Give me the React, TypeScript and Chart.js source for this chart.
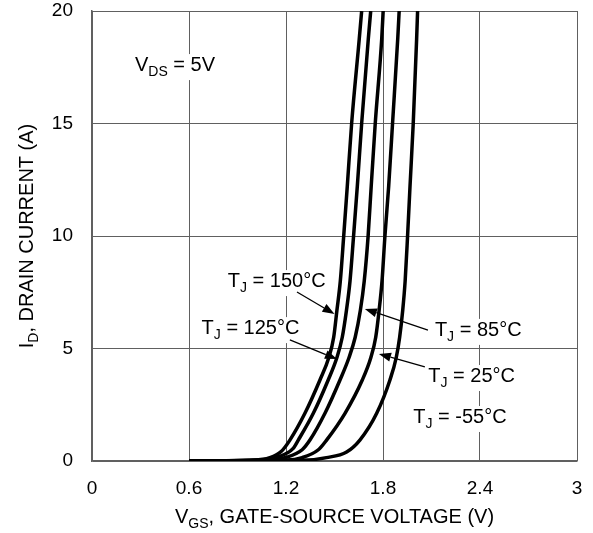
import { useEffect, useRef } from "react";
import { Chart, registerables } from "chart.js";

Chart.register(...registerables);

const FONT = '"Liberation Sans", Arial, sans-serif';

const xTicks = [0, 0.6, 1.2, 1.8, 2.4, 3];
const xTickLabels = ["0", "0.6", "1.2", "1.8", "2.4", "3"];
const yTicks = [0, 5, 10, 15, 20];
const yTickLabels = ["0", "5", "10", "15", "20"];

// T_J = 150 C
const vgs150 = [0.6, 1.0, 1.1, 1.17, 1.224, 1.317, 1.41, 1.465, 1.495, 1.515, 1.536, 1.557, 1.579, 1.606, 1.653, 1.668];
const id150 = [0, 0.04, 0.15, 0.42, 0.93, 2.12, 3.6, 4.6, 5.5, 6.7, 8.0, 10, 12.2, 15, 18.75, 20];
// T_J = 125 C
const vgs125 = [0.6, 1.05, 1.15, 1.243, 1.276, 1.369, 1.461, 1.515, 1.548, 1.574, 1.596, 1.618, 1.641, 1.668, 1.709, 1.724];
const id125 = [0, 0.04, 0.18, 0.55, 0.93, 2.12, 3.6, 4.6, 5.5, 6.7, 8.0, 10, 12.2, 15, 18.75, 20];
// T_J = 85 C
const vgs85 = [0.6, 1.1, 1.2, 1.3, 1.348, 1.441, 1.534, 1.59, 1.628, 1.66, 1.684, 1.708, 1.727, 1.752, 1.792, 1.801];
const id85 = [0, 0.04, 0.16, 0.5, 0.93, 2.12, 3.6, 4.6, 5.5, 6.7, 8, 10, 12.2, 15, 18.75, 20];
// T_J = 25 C
const vgs25 = [0.6, 1.2, 1.3, 1.4, 1.451, 1.565, 1.672, 1.725, 1.755, 1.776, 1.794, 1.812, 1.835, 1.859, 1.891, 1.9];
const id25 = [0, 0.04, 0.15, 0.5, 0.93, 2.12, 3.6, 4.6, 5.5, 6.7, 8, 10, 12.2, 15, 18.75, 20];
// T_J = -55 C
const vgsM55 = [0.6, 1.3, 1.45, 1.575, 1.657, 1.761, 1.843, 1.882, 1.903, 1.922, 1.937, 1.952, 1.967, 1.987, 2.008, 2.014];
const idM55 = [0, 0.03, 0.15, 0.4, 0.93, 2.12, 3.6, 4.6, 5.5, 6.7, 8, 10, 12.2, 15, 18.75, 20];

const seriesX = [vgs150, vgs125, vgs85, vgs25, vgsM55];
const seriesY = [id150, id125, id85, id25, idM55];
const seriesNames = ["TJ = 150°C", "TJ = 125°C", "TJ = 85°C", "TJ = 25°C", "TJ = -55°C"];

// Annotation labels (data coordinates: left edge, baseline)
const noteMain = ["V", "T", "T", "T", "T", "T"];
const noteSub = ["DS", "J", "J", "J", "J", "J"];
const noteRest = [" = 5V", " = 150°C", " = 125°C", " = 85°C", " = 25°C", " = -55°C"];
const noteX = [0.266, 0.84, 0.678, 2.121, 2.08, 1.987];
const noteY = [17.33, 7.73, 5.64, 5.56, 3.51, 1.69];

// Arrows (data coordinates)
const arrowFromX = [1.268, 1.224, 2.078, 2.059];
const arrowFromY = [7.51, 5.38, 5.82, 4.18];
const arrowToX = [1.5, 1.515, 1.688, 1.775];
const arrowToY = [6.53, 4.53, 6.76, 4.76];

type Part = { t: string; sub?: boolean };

const MAIN = 20;
const SUB = 14;
const DROP = 5;

function partsWidth(ctx: CanvasRenderingContext2D, parts: Part[]) {
  let w = 0;
  for (const p of parts) {
    ctx.font = `${p.sub ? SUB : MAIN}px ${FONT}`;
    w += ctx.measureText(p.t).width;
  }
  return w;
}

function drawParts(ctx: CanvasRenderingContext2D, parts: Part[], x: number, y: number) {
  let cx = x;
  ctx.textAlign = "left";
  ctx.textBaseline = "alphabetic";
  for (const p of parts) {
    ctx.font = `${p.sub ? SUB : MAIN}px ${FONT}`;
    ctx.fillText(p.t, cx, p.sub ? y + DROP : y);
    cx += ctx.measureText(p.t).width;
  }
}

const overlay = {
  id: "overlay",
  afterDatasetsDraw(chart: any) {
    const ctx: CanvasRenderingContext2D = chart.ctx;
    const xs = chart.scales.x;
    const ys = chart.scales.y;
    ctx.save();
    for (let i = 0; i < noteMain.length; i++) {
      const parts: Part[] = [{ t: noteMain[i] }, { t: noteSub[i], sub: true }, { t: noteRest[i] }];
      const px = xs.getPixelForValue(noteX[i]);
      const py = ys.getPixelForValue(noteY[i]);
      const w = partsWidth(ctx, parts);
      ctx.fillStyle = "#fff";
      ctx.fillRect(px - 3, py - 17, w + 6, 26);
      ctx.fillStyle = "#000";
      drawParts(ctx, parts, px, py);
    }
    ctx.strokeStyle = "#000";
    ctx.fillStyle = "#000";
    ctx.lineWidth = 1.3;
    for (let i = 0; i < arrowFromX.length; i++) {
      const x1 = xs.getPixelForValue(arrowFromX[i]);
      const y1 = ys.getPixelForValue(arrowFromY[i]);
      const x2 = xs.getPixelForValue(arrowToX[i]);
      const y2 = ys.getPixelForValue(arrowToY[i]);
      const a = Math.atan2(y2 - y1, x2 - x1);
      const L = 12;
      const W = 4.5;
      const bx = x2 - L * Math.cos(a);
      const by = y2 - L * Math.sin(a);
      ctx.beginPath();
      ctx.moveTo(x1, y1);
      ctx.lineTo(bx, by);
      ctx.stroke();
      ctx.beginPath();
      ctx.moveTo(x2, y2);
      ctx.lineTo(bx + W * Math.sin(a), by - W * Math.cos(a));
      ctx.lineTo(bx - W * Math.sin(a), by + W * Math.cos(a));
      ctx.closePath();
      ctx.fill();
    }
    const area = chart.chartArea;
    const xt: Part[] = [{ t: "V" }, { t: "GS", sub: true }, { t: ", GATE-SOURCE VOLTAGE (V)" }];
    const xw = partsWidth(ctx, xt);
    ctx.fillStyle = "#000";
    drawParts(ctx, xt, (area.left + area.right) / 2 - xw / 2, 523);
    const yt: Part[] = [{ t: "I" }, { t: "D", sub: true }, { t: ", DRAIN CURRENT (A)" }];
    const yw = partsWidth(ctx, yt);
    ctx.translate(33, (area.top + area.bottom) / 2);
    ctx.rotate(-Math.PI / 2);
    drawParts(ctx, yt, -yw / 2, 0);
    ctx.restore();
  },
};

export default function App() {
  const ref = useRef<HTMLCanvasElement | null>(null);
  useEffect(() => {
    document.body.style.margin = "0";
    if (!ref.current) return;
    const chart = new Chart(ref.current, {
      type: "line",
      data: {
        datasets: seriesX.map((xsArr, k) => ({
          label: seriesNames[k],
          data: xsArr.map((x, i) => ({ x, y: seriesY[k][i] })),
          borderColor: "#000",
          backgroundColor: "#000",
          borderWidth: 3.5,
          pointRadius: 0,
          fill: false,
          cubicInterpolationMode: "monotone" as const,
        })),
      },
      options: {
        animation: false,
        responsive: true,
        maintainAspectRatio: false,
        layout: { padding: { top: 11, right: 16, left: 0, bottom: 0 } },
        plugins: { legend: { display: false }, tooltip: { enabled: false } },
        scales: {
          x: {
            type: "linear",
            min: 0,
            max: 3,
            afterBuildTicks: (s: any) => {
              s.ticks = xTicks.map((v) => ({ value: v }));
            },
            afterFit: (s: any) => {
              s.height = 72;
              s.paddingLeft = 0;
              s.paddingRight = 0;
              s.paddingTop = 0;
              s.paddingBottom = 0;
            },
            ticks: {
              callback: (_v: any, i: number) => xTickLabels[i],
              font: { family: FONT, size: 19 },
              color: "#000",
              padding: 16,
              maxRotation: 0,
              autoSkip: false,
            },
            grid: { color: "#606060", drawTicks: false, lineWidth: 1 },
            border: { color: "#606060", width: 1.5 },
          },
          y: {
            type: "linear",
            min: 0,
            max: 20,
            afterBuildTicks: (s: any) => {
              s.ticks = yTicks.map((v) => ({ value: v }));
            },
            afterFit: (s: any) => {
              s.width = 92;
              s.paddingLeft = 0;
              s.paddingRight = 0;
              s.paddingTop = 0;
              s.paddingBottom = 0;
            },
            ticks: {
              callback: (_v: any, i: number) => yTickLabels[i],
              font: { family: FONT, size: 19 },
              color: "#000",
              padding: 19,
              autoSkip: false,
            },
            grid: { color: "#606060", drawTicks: false, lineWidth: 1 },
            border: { color: "#606060", width: 1.5 },
          },
        },
      },
      plugins: [overlay],
    });
    return () => chart.destroy();
  }, []);
  return (
    <div style={{ width: 593, height: 533, position: "relative" }}>
      <canvas ref={ref} />
    </div>
  );
}
